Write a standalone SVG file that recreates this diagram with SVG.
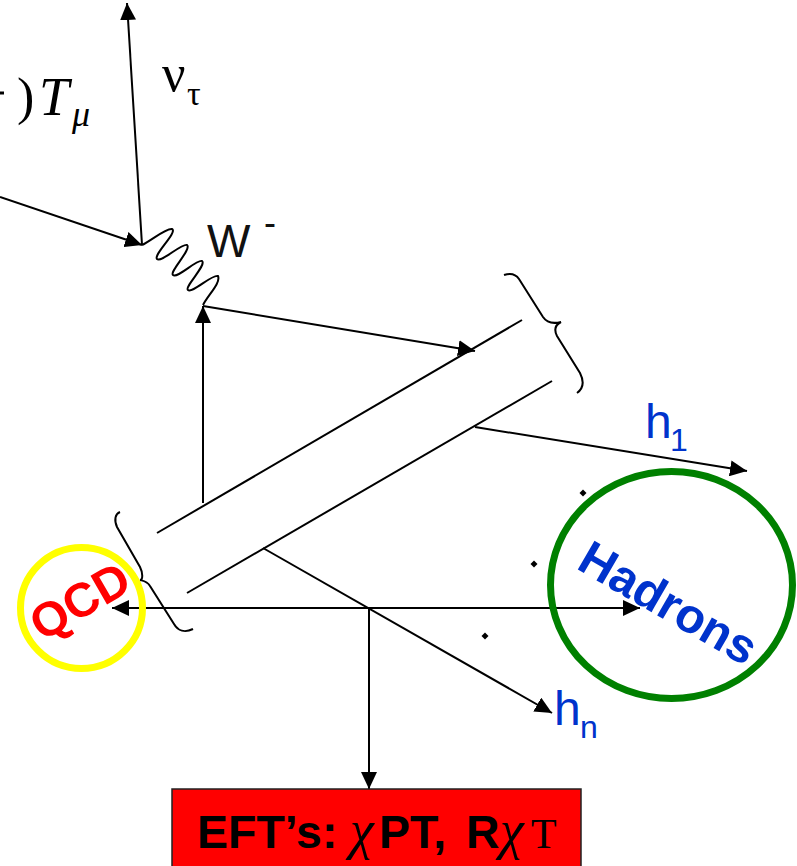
<svg xmlns="http://www.w3.org/2000/svg" width="797" height="866" viewBox="0 0 797 866">
<style>
.l{fill:none;stroke:#000;stroke-width:2}
.s{font-family:"Liberation Sans",Arial,sans-serif}
.r{font-family:"Liberation Serif","Times New Roman",serif}
.h{fill:#0033cc}
.b{font-weight:bold}
</style>
<defs>
<marker id="a" markerUnits="userSpaceOnUse" markerWidth="18" markerHeight="16" refX="17" refY="8" orient="auto-start-reverse"><path d="M0 0L17 8L0 16z" fill="#000"/></marker>
</defs>
<rect width="797" height="866" fill="#fff"/>
<g id="connectors">
<path class="l" d="M142 245L127 3" marker-end="url(#a)"/>
<path class="l" d="M0 197L142 245" marker-end="url(#a)"/>
<path class="l" d="M203 503V306" marker-end="url(#a)"/>
<path class="l" d="M203 306L475 351" marker-end="url(#a)"/>
<path class="l" d="M475 427L747 471" marker-end="url(#a)"/>
<path class="l" d="M263 548L552 713" marker-end="url(#a)"/>
<path class="l" d="M112 608H640" marker-start="url(#a)" marker-end="url(#a)"/>
<path class="l" d="M369 608V789" marker-end="url(#a)"/>
<path class="l" d="M142 245C152 240 166 228 172 229C178 232 153 255 157 259C161 263 182 243 187 245C192 249 169 272 173 275C177 279 197 259 202 261C207 265 184 287 188 290C192 294 212 274 218 276C221 283 208 295 203 305"/>
</g>
<g id="meson">
<path class="l" d="M157 533L522 320"/>
<path class="l" d="M187 593L552 381"/>
</g>
<g id="brace-left"><path class="l" d="M120 512C115 514 114 520 117 527L140 567C143 573 143 580 140 580C144 581 147 581 150 586L174 624C178 631 185 633 193 629"/></g>
<g id="brace-right"><path class="l" d="M504 275C510 273 515 273 519 279L543 317C547 323 553 324 561 322C555 325 554 330 557 336L580 373C584 381 584 388 577 393"/></g>
<g id="dots">
<path d="M583 489.500L586.500 493L583 496.500L579.500 493z"/>
<path d="M534 560.500L537.500 564L534 567.500L530.500 564z"/>
<path d="M485 632.500L488.500 636L485 639.500L481.500 636z"/>
</g>
<g id="current"><path d="M0 93H4" stroke="#000" stroke-width="3"/><text class="r" x="17" y="114" font-size="52">)</text><text class="r" x="39" y="115" font-size="54" font-style="italic">T</text><text class="r" x="72" y="126" font-size="36" font-style="italic">μ</text></g>
<g id="nu"><text class="r" x="162" y="91" font-size="52">ν</text><text class="r" x="187" y="105" font-size="34">τ</text></g>
<g id="w"><text class="s" x="207" y="257" font-size="46" fill="#111">W</text><text class="s" x="264" y="235" font-size="36" fill="#111">-</text></g>
<g id="h1"><text class="s h" x="645" y="438" font-size="48">h</text><text class="s h" x="670" y="451" font-size="32">1</text></g>
<g id="hn"><text class="s h" x="554" y="725" font-size="48">h</text><text class="s h" x="580" y="738" font-size="32">n</text></g>
<g id="qcd"><ellipse cx="81.500" cy="608" rx="61" ry="60.500" fill="none" stroke="#ff0" stroke-width="7"/><text class="s b" transform="translate(42 642) rotate(-30)" font-size="48" fill="#f00">QCD</text></g>
<g id="hadrons"><ellipse cx="671.500" cy="585" rx="121" ry="113.500" fill="none" stroke="#008000" stroke-width="7"/><text class="s b h" transform="translate(575 568) rotate(30)" font-size="48.500">Hadrons</text></g>
<g id="eft"><rect x="172" y="789" width="409" height="90" fill="#f00" stroke="#222" stroke-width="1.500"/><text y="848" font-size="46.500"><tspan class="s b" x="197">EFT’s:</tspan><tspan class="r" font-style="italic" font-size="54" x="350">χ</tspan><tspan class="s b" x="379">PT,</tspan><tspan class="s b" x="466">R</tspan><tspan class="r" font-style="italic" font-size="54" x="500">χ</tspan><tspan class="r" font-size="42" x="531">T</tspan></text></g>
</svg>
